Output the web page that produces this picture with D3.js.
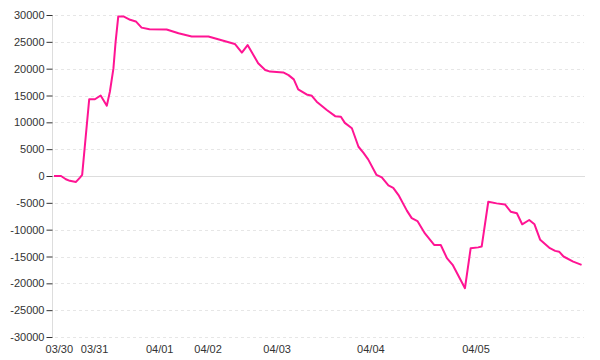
<!DOCTYPE html>
<html><head><meta charset="utf-8">
<script src="https://cdn.jsdelivr.net/npm/d3@7"></script>
<style>
html,body{margin:0;padding:0;background:#fff;}
svg{display:block;}
text{font-family:"Liberation Sans",Arial,sans-serif;font-size:11px;fill:#333;}
</style></head>
<body>
<svg id="chart" width="600" height="360"></svg>
<script>
// sample positions (index units) and values
const positions = [0,1.6,2.7,3.6,5.0,5.9,6.4,8.0,9.3,10.6,12.0,12.7,13.5,14.0,14.6,15.9,17.3,18.6,19.9,21.7,25.6,28.3,31.3,35.1,37.7,41.1,42.7,44.0,46.4,48.0,49.1,52.1,53.3,54.5,55.5,57.4,58.6,59.7,62.0,63.9,65.2,66.1,67.7,69.2,70.3,71.4,73.3,74.5,76.0,77.1,78.3,80.2,81.3,82.6,84.3,86.4,87.9,89.3,90.6,93.4,94.7,96.4,97.2,98.7,100.6,102.5,103.8,105.2,106.4,108.0,109.2,110.5,112.7,113.9,114.8,115.8,118.0,119.9];
const values = [0,0,-600,-900,-1100,-300,200,14300,14300,15000,13100,15700,20000,25000,29700,29700,29100,28800,27650,27350,27300,26600,26000,26000,25400,24600,23000,24400,21000,19750,19450,19300,18800,18000,16150,15200,14950,13850,12300,11150,11050,9900,8900,5450,4350,3100,200,-250,-1750,-2200,-3550,-6450,-7850,-8400,-10700,-12850,-12850,-15300,-16550,-20900,-13450,-13300,-13150,-4800,-5100,-5300,-6650,-6950,-9000,-8200,-9000,-11900,-13450,-13950,-14100,-15000,-15950,-16550];
const tickLabels = ["03/30","03/31","04/01","04/02","04/03","04/04","04/05"];
const tickPositions = [1.1,9.1,23.9,34.9,50.6,71.9,95.8];
const yTicks = [-30000,-25000,-20000,-15000,-10000,-5000,0,5000,10000,15000,20000,25000,30000];

const svg = d3.select("#chart");
const x = d3.scaleLinear().domain([0,120]).range([54,582]);
const y = d3.scaleLinear().domain([-30000,30000]).range([337,15]);

// gridlines
svg.append("g").selectAll("line").data(yTicks.filter(d=>d!==0)).join("line")
  .attr("x1",55).attr("x2",584)
  .attr("y1",d=>Math.round(y(d))+0.5).attr("y2",d=>Math.round(y(d))+0.5)
  .attr("stroke","#e6e6e6").attr("stroke-dasharray","3,3");
// zero line
svg.append("line").attr("x1",52).attr("x2",585)
  .attr("y1",Math.round(y(0))+0.5).attr("y2",Math.round(y(0))+0.5)
  .attr("stroke","#dddddd");

// y axis
const yAxis = d3.axisLeft(y).tickValues(yTicks).tickFormat(d=>String(d)).tickSize(6).tickPadding(2);
const gy = svg.append("g").attr("transform","translate(52.5,0)").call(yAxis);
gy.select(".domain").attr("stroke","#dddddd").attr("d","M0,"+y(30000)+"V"+y(-30000));
gy.selectAll(".tick line").attr("stroke","#333");
gy.selectAll("text").attr("fill","#333").style("font-size","11px").attr("font-family",null);

// x axis labels
const xAxis = d3.axisBottom(x).tickValues(tickPositions).tickFormat((d,i)=>tickLabels[i]).tickSize(0).tickPadding(5);
const gx = svg.append("g").attr("transform","translate(0,340)").call(xAxis);
gx.select(".domain").remove();
gx.selectAll("text").attr("fill","#333").style("font-size","11px").attr("font-family",null);

// line
const data = positions.map((p,i)=>({p, v:values[i]}));
svg.append("path").datum(data)
  .attr("fill","none").attr("stroke","#ff1493").attr("stroke-width",2)
  .attr("stroke-linejoin","round")
  .attr("d", d3.line().x(d=>x(d.p)).y(d=>y(d.v)));
</script>
</body></html>
